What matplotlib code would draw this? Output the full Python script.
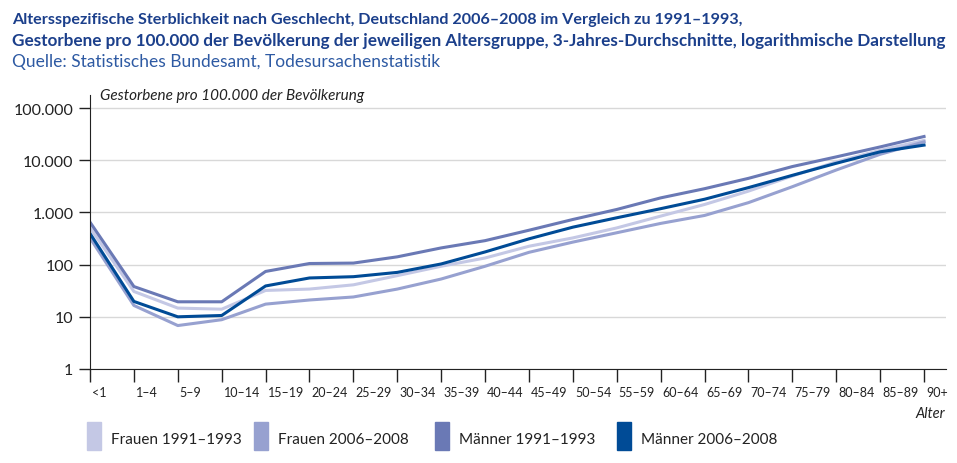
import numpy as np
import matplotlib
matplotlib.use("Agg")
import matplotlib.pyplot as plt
import matplotlib.transforms as mtransforms
from matplotlib.patches import Rectangle

plt.rcParams['font.family'] = ['Lato', 'DejaVu Sans']

alter = ["<1", "1–4", "5–9", "10–14", "15–19", "20–24", "25–29", "30–34", "35–39", "40–44",
         "45–49", "50–54", "55–59", "60–64", "65–69", "70–74", "75–79", "80–84", "85–89", "90+"]

frauen_1991 = [510, 30.6, 14.7, 14, 32, 34, 41, 61.5, 93, 134,
               225, 325, 505, 850, 1420, 2560, 5000, 9300, 15500, 24000]
frauen_2006 = [325, 16.5, 6.8, 8.8, 17.5, 21, 24, 34, 53, 93,
               172, 270, 408, 616, 875, 1540, 3110, 6500, 13000, 22500]
maenner_1991 = [650, 38, 19.4, 19.4, 74, 105, 107, 141, 209, 288,
                456, 733, 1140, 1900, 2850, 4500, 7570, 11600, 18000, 28500]
maenner_2006 = [395, 19.7, 10, 10.6, 39, 55.5, 58.7, 71, 103, 175,
                312, 522, 790, 1180, 1790, 2990, 5140, 8750, 14500, 19500]

serien = [
    ("Frauen 1991–1993", frauen_1991, "#c4c8e5"),
    ("Frauen 2006–2008", frauen_2006, "#97a1d0"),
    ("Männer 1991–1993", maenner_1991, "#6a79b5"),
    ("Männer 2006–2008", maenner_2006, "#004b96"),
]

yticks = [1, 10, 100, 1000, 10000, 100000]
ylabels = ["1", "10", "100", "1.000", "10.000", "100.000"]

W, H = 957, 464
fig = plt.figure(figsize=(W / 100, H / 100), dpi=100)
ax = fig.add_axes([90 / W, 1 - 370 / H, (946 - 90) / W, (370 - 96) / H])

x = np.arange(len(alter))
for name, vals, col in serien:
    ax.plot(x, vals, color=col, lw=2.2, solid_joinstyle="round")

ax.set_yscale("log")
ax.set_ylim(1, 10 ** 5.25)
ax.set_xlim(0, 19.5)
ax.set_yticks(yticks)
ax.set_yticklabels(ylabels, fontsize=11.5, color="#222222")
ax.minorticks_off()
ax.grid(axis="y", color="#d8d8d8", lw=1)
ax.set_axisbelow(True)
ax.set_xticks(x)
ax.set_xticklabels([])
ax.tick_params(axis="x", length=9.5, width=1, color="#222222")
ax.tick_params(axis="y", length=8, width=1, color="#222222", pad=4)
for s in ["top", "right"]:
    ax.spines[s].set_visible(False)
ax.spines["left"].set_color("#222222")
ax.spines["bottom"].set_color("#222222")

# category labels, left-aligned just right of each tick as in the original
off = mtransforms.offset_copy(ax.get_xaxis_transform(), fig=fig, x=2, y=0, units="dots")
for i, lbl in enumerate(alter):
    ax.text(i, -0.085, lbl, transform=off, ha="left", va="center",
            fontsize=9, color="#222222", clip_on=False)

fig.text(100 / W, 1 - 96 / H, "Gestorbene pro 100.000 der Bevölkerung", style="italic",
         fontsize=11, color="#222222", ha="left", va="center")
fig.text(945 / W, 1 - 414 / H, "Alter", style="italic", fontsize=10.5,
         color="#222222", ha="right", va="center")

# titles
fig.text(12 / W, 1 - 20 / H, "Altersspezifische Sterblichkeit nach Geschlecht, Deutschland 2006–2008 im Vergleich zu 1991–1993,",
         fontsize=11.6, fontweight="bold", color="#1b3f8b", ha="left", va="center")
fig.text(12 / W, 1 - 41 / H, "Gestorbene pro 100.000 der Bevölkerung der jeweiligen Altersgruppe, 3-Jahres-Durchschnitte, logarithmische Darstellung",
         fontsize=12.3, fontweight="bold", color="#1b3f8b", ha="left", va="center")
fig.text(12 / W, 1 - 62 / H, "Quelle: Statistisches Bundesamt, Todesursachenstatistik",
         fontsize=12.5, color="#2e5aa3", ha="left", va="center")

# legend
leg_x = [87, 254, 435, 617]
for (name, vals, col), lx in zip(serien, leg_x):
    fig.patches.append(Rectangle((lx / W, 1 - 451 / H), 14 / W, 28 / H,
                                 transform=fig.transFigure, color=col))
    fig.text((lx + 24) / W, 1 - 440 / H, name, fontsize=11, color="#222222",
             ha="left", va="center")

fig.savefig("out.png", dpi=100)
